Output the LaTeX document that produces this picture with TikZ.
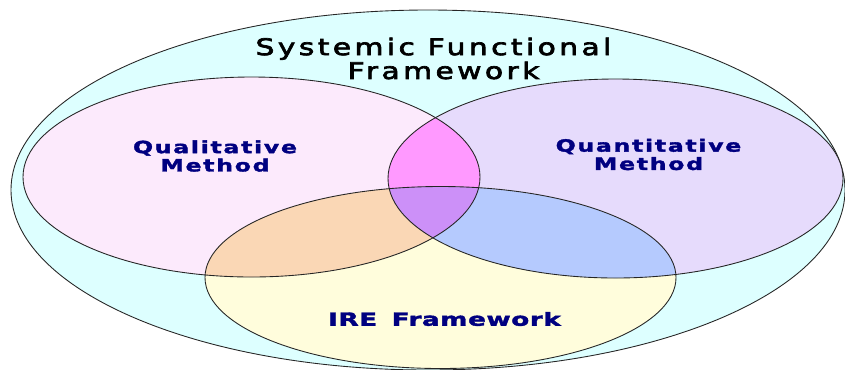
\documentclass[tikz,border=0pt]{standalone}
\usepackage{fontspec}
\newfontfamily\titlefont[FakeStretch=1.3, LetterSpace=15, FakeBold=3]{DejaVu Sans}
\newfontfamily\labelfont[FakeStretch=1.4, LetterSpace=10, FakeBold=2]{DejaVu Sans}
\newfontfamily\irefont[FakeStretch=1.45, LetterSpace=3, WordSpace=1.5, FakeBold=2]{DejaVu Sans}

\definecolor{navy}{RGB}{0,0,128}
\definecolor{sffcol}{HTML}{DDFFFF}
\definecolor{qualcol}{HTML}{FCEAFC}
\definecolor{quancol}{HTML}{E6DBFC}
\definecolor{irecol}{HTML}{FFFDDC}
\definecolor{lenscol}{HTML}{FF99FF}
\definecolor{peachcol}{HTML}{FAD7B5}
\definecolor{bluecol}{HTML}{B5CAFE}
\definecolor{triplecol}{HTML}{CC90F8}

\begin{document}
\begin{tikzpicture}[
  ring/.style={draw=black!85, line width=0.5pt},
  sffr/.style={x radius=8.34, y radius=3.60},
  qualr/.style={x radius=4.57, y radius=2.00},
  quanr/.style={x radius=4.55, y radius=1.99},
  irer/.style={x radius=4.71, y radius=1.82},
  lbl/.style={align=center, text=navy, font=\labelfont\bfseries\fontsize{9.6}{10.4}\selectfont}
]
\useasboundingbox (0,0) rectangle (16.9,-7.38);
\coordinate (sff) at (8.56,-3.80);
\coordinate (qual) at (5.03,-3.54);
\coordinate (quan) at (12.31,-3.57);
\coordinate (ire) at (8.81,-5.55);

\draw[ring, fill=sffcol] (sff) ellipse [sffr];
\fill[qualcol] (qual) ellipse [qualr];
\fill[quancol] (quan) ellipse [quanr];
\fill[irecol] (ire) ellipse [irer];

% overlaps
\begin{scope}
\clip (qual) ellipse [qualr];
\fill[lenscol] (quan) ellipse [quanr];
\fill[peachcol] (ire) ellipse [irer];
\end{scope}
\begin{scope}
\clip (quan) ellipse [quanr];
\fill[bluecol] (ire) ellipse [irer];
\end{scope}
\begin{scope}
\clip (qual) ellipse [qualr];
\clip (quan) ellipse [quanr];
\fill[triplecol] (ire) ellipse [irer];
\end{scope}

\draw[ring] (qual) ellipse [qualr];
\draw[ring] (quan) ellipse [quanr];
\draw[ring] (ire) ellipse [irer];

\node[align=center, font=\titlefont\fontsize{13}{11.3}\selectfont] (title) at (8.67,-1.17) {Systemic Functional\\\hspace*{0.4cm}Framework};
\node[lbl] (qualtext) at (4.30,-3.12) {Qualitative\\Method};
\node[lbl] (quantext) at (12.97,-3.09) {Quantitative\\Method};
\node[lbl, font=\irefont\bfseries\fontsize{10.3}{10.8}\selectfont] (iretext) at (8.89,-6.38) {IRE Framework};
\end{tikzpicture}
\end{document}
